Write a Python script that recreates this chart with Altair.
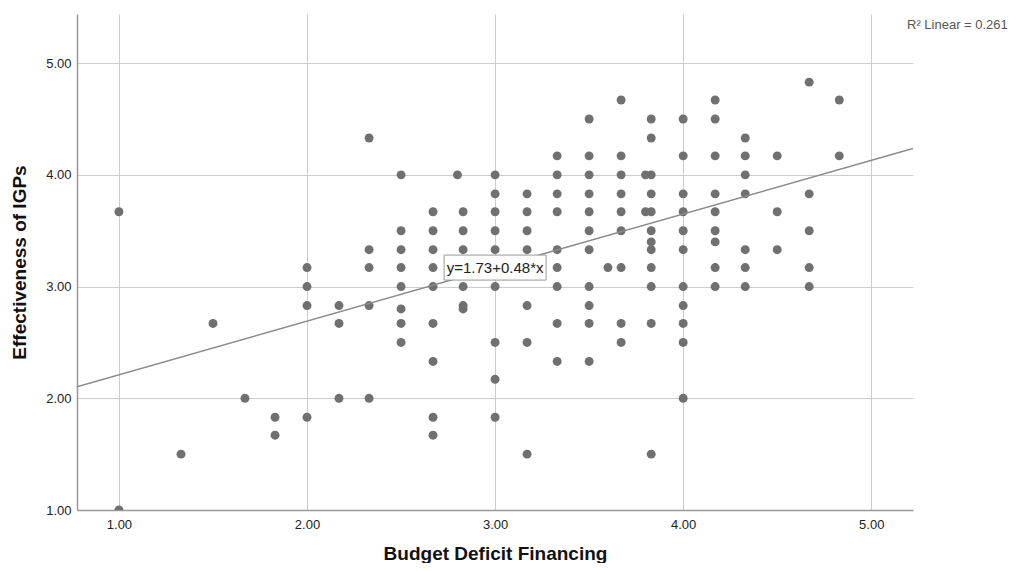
import altair as alt
import pandas as pd

# Scatter data (Budget Deficit Financing vs Effectiveness of IGPs)
columns = {
    1.00: [3.67, 1.00],
    1.33: [1.50],
    1.50: [2.67],
    1.67: [2.00],
    1.83: [1.83, 1.67],
    2.00: [3.17, 3.00, 2.83, 1.83],
    2.17: [2.83, 2.67, 2.00],
    2.33: [4.33, 3.33, 3.17, 2.83, 2.00],
    2.50: [4.00, 3.50, 3.33, 3.17, 3.00, 2.80, 2.67, 2.50],
    2.67: [3.67, 3.50, 3.33, 3.17, 3.00, 2.67, 2.33, 1.83, 1.67],
    2.80: [4.00],
    2.83: [3.67, 3.50, 3.33, 3.00, 2.83, 2.80],
    3.00: [4.00, 3.83, 3.67, 3.50, 3.33, 3.00, 2.50, 2.17, 1.83],
    3.17: [3.83, 3.67, 3.50, 3.33, 3.17, 2.83, 2.50, 1.50],
    3.33: [4.17, 4.00, 3.83, 3.67, 3.33, 3.17, 3.00, 2.67, 2.33],
    3.50: [4.50, 4.17, 4.00, 3.83, 3.67, 3.50, 3.33, 3.00, 2.83, 2.67, 2.33],
    3.60: [3.17],
    3.67: [4.67, 4.17, 4.00, 3.83, 3.67, 3.50, 3.17, 2.67, 2.50],
    3.80: [4.00, 3.67],
    3.83: [4.50, 4.33, 4.00, 3.83, 3.67, 3.50, 3.40, 3.33, 3.17, 3.00, 2.67, 1.50],
    4.00: [4.50, 4.17, 3.83, 3.67, 3.50, 3.33, 3.00, 2.83, 2.67, 2.50, 2.00],
    4.17: [4.67, 4.50, 4.17, 3.83, 3.67, 3.50, 3.40, 3.17, 3.00],
    4.33: [4.33, 4.17, 4.00, 3.83, 3.33, 3.17, 3.00],
    4.50: [4.17, 3.67, 3.33],
    4.67: [4.83, 3.83, 3.50, 3.17, 3.00],
    4.83: [4.67, 4.17],
}

x_vals = []
y_vals = []
for xv, yl in columns.items():
    for yv in yl:
        x_vals.append(xv)
        y_vals.append(yv)

points = pd.DataFrame({"bdf": x_vals, "igp": y_vals})

# Axis ranges and ticks
x_domain = [0.777, 5.222]
y_domain = [1.0, 5.44]
tick_values = [1, 2, 3, 4, 5]

# Fit line reported on the chart
intercept = 1.73
slope = 0.48
r2 = 0.261
line_df = pd.DataFrame({"bdf": x_domain, "igp": [intercept + slope * v for v in x_domain]})

label_df = pd.DataFrame({"bdf": [3.0], "igp": [3.17], "txt": [f"y={intercept:.2f}+{slope:.2f}*x"]})
r2_df = pd.DataFrame({"txt": [f"R\u00b2 Linear = {r2:.3f}"]})

FONT = "Liberation Sans"

x_enc = alt.X(
    "bdf:Q",
    title="Budget Deficit Financing",
    scale=alt.Scale(domain=x_domain, nice=False, zero=False),
    axis=alt.Axis(values=tick_values, format=".2f", titlePadding=13, labelPadding=8),
)
y_enc = alt.Y(
    "igp:Q",
    title="Effectiveness of IGPs",
    scale=alt.Scale(domain=y_domain, nice=False, zero=False),
    axis=alt.Axis(values=tick_values, format=".2f", titlePadding=16, labelPadding=6),
)

pts = alt.Chart(points).mark_circle(size=80, color="#707070", opacity=1, clip=True).encode(
    x=x_enc, y=y_enc
)

fit = alt.Chart(line_df).mark_line(color="#8a8a8a", strokeWidth=1.5, clip=True).encode(
    x="bdf:Q", y="igp:Q"
)

box = alt.Chart(label_df).mark_point(
    shape="M-1,-0.245L1,-0.245L1,0.245L-1,0.245Z",
    size=10404,
    filled=True,
    fill="white",
    fillOpacity=1,
    stroke="#9a9a9a",
    strokeWidth=1,
    opacity=1,
).encode(x="bdf:Q", y="igp:Q")

box_text = alt.Chart(label_df).mark_text(
    font=FONT, fontSize=15, color="#222222", align="center", baseline="middle"
).encode(x="bdf:Q", y="igp:Q", text="txt:N")

r2_text = alt.Chart(r2_df).mark_text(
    font=FONT, fontSize=13, color="#555555", align="left", baseline="middle", clip=False
).encode(x=alt.value(830), y=alt.value(11), text="txt:N")

chart = (
    alt.layer(pts, fit, box, box_text, r2_text)
    .properties(
        width=836,
        height=496,
        autosize=alt.AutoSizeParams(type="none"),
        padding={"left": 69, "top": 6, "right": 96, "bottom": 53},
        background="white",
    )
    .configure_view(strokeWidth=0)
    .configure_axis(
        domainColor="#999999",
        domainWidth=1.5,
        gridColor="#cccccc",
        gridWidth=1,
        ticks=False,
        tickSize=0,
        labelFont=FONT,
        labelFontSize=13,
        labelColor="#222222",
        titleFont=FONT,
        titleFontSize=19,
        titleFontWeight="bold",
        titleColor="#111111",
    )
)

chart.save("out.html", embed_options={"renderer": "svg", "actions": False})
